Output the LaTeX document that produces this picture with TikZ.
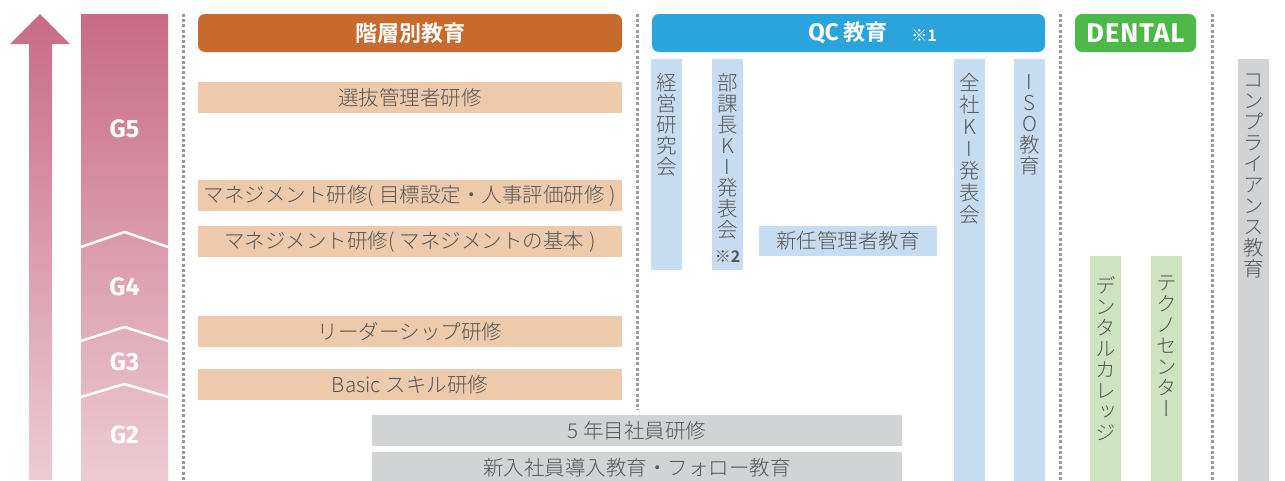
\documentclass[tikz,border=0pt]{standalone}
\usepackage{fontspec}
\newfontfamily\jp{Noto Sans CJK JP}[UprightFont=* Light, BoldFont=* Bold]
\newfontfamily\vjp{Noto Sans CJK JP}[UprightFont=* Light, RawFeature=+vert]
\newfontfamily\jpb{Noto Sans CJK JP}[UprightFont=* Bold]
\newfontfamily\gfont{Fira Sans}
\newcommand\lpar{(\kern5pt}
\newcommand\rpar{\kern5pt)}
\definecolor{hdrorange}{HTML}{C8692E}
\definecolor{hdrblue}{HTML}{2BA3DC}
\definecolor{hdrgreen}{HTML}{4DB848}
\definecolor{boxorange}{HTML}{EECAAD}
\definecolor{boxblue}{HTML}{C5DCF1}
\definecolor{boxgreen}{HTML}{CDE4C1}
\definecolor{boxgray}{HTML}{D2D3D5}
\definecolor{txt}{HTML}{555555}
\definecolor{dotgray}{HTML}{9A9A9A}
\definecolor{pinktop}{HTML}{C96A86}
\definecolor{pinkbot}{HTML}{ECCCD4}
\tikzset{
  hdr/.style={rounded corners=7pt, inner sep=0pt, text=white, minimum height=38pt,
    font=\jpb\fontsize{22}{24}\selectfont},
  hbar/.style={inner sep=0pt, text=txt, minimum height=31pt,
    font=\jp\fontsize{20.5}{24}\selectfont},
  vcol/.style={inner sep=0pt, minimum width=31pt},
  vtxt/.style={inner sep=0pt, anchor=north, align=center, text=txt,
    font=\vjp\fontsize{20.5}{21}\selectfont},
  sep/.style={dotgray, line width=3pt, dash pattern=on 3pt off 2.2pt},
  glabel/.style={text=white, font=\gfont\bfseries\fontsize{25}{26}\selectfont},
  chev/.style={white, line width=2.5pt},
}
\begin{document}
\begin{tikzpicture}[x=1pt, y=-1pt]
\useasboundingbox (0,0) rectangle (1285,480);
% left arrow and grade bar
\shade[top color=pinktop, bottom color=pinkbot]
  (29,480) -- (29,44) -- (10,44) -- (40,14) -- (70,44) -- (52,44) -- (52,480) -- cycle;
\shade[top color=pinktop, bottom color=pinkbot] (81,14) rectangle (168,480);
\draw[chev] (81,247) -- (124.5,232) -- (168,247);
\draw[chev] (81,341) -- (124.5,327) -- (168,341);
\draw[chev] (81,397) -- (124.5,384) -- (168,397);
\node[glabel] (g5) at (124.5,129) {G5};
\node[glabel] (g4) at (124.5,287) {G4};
\node[glabel] (g3) at (124.5,362) {G3};
\node[glabel] (g2) at (124.5,435) {G2};
% separators
\draw[sep] (183,14) -- (183,480);
\draw[sep] (637,14) -- (637,410);
\draw[sep] (1060,14) -- (1060,480);
\draw[sep] (1212,14) -- (1212,480);
% headers
\node[hdr, fill=hdrorange, minimum width=424pt] (h1) at (410,33) {階層別教育};
\node[hdr, fill=hdrblue, minimum width=393pt] (h2) at (848.5,33) {};
\node[text=white, font=\jpb\fontsize{22}{24}\selectfont, inner sep=0pt] (h2t) at (848,33)
  {{\gfont\bfseries\fontsize{24}{24}\selectfont QC} 教育};
\node[text=white, font=\jpb\fontsize{16}{17}\selectfont, inner sep=0pt] (h2n) at (924,36) {※1};
\node[hdr, fill=hdrgreen, minimum width=121pt] (h3) at (1135.5,33)
  {\gfont\bfseries\fontsize{27}{28}\selectfont\addfontfeature{LetterSpace=4}DENTAL};
% orange bars
\node[hbar, fill=boxorange, minimum width=424pt] (b1) at (410,97.5) {選抜管理者研修};
\node[hbar, fill=boxorange, minimum width=424pt] (b2) at (410,195.5) {マネジメント研修\lpar 目標設定・人事評価研修\rpar};
\node[hbar, fill=boxorange, minimum width=424pt] (b3) at (410,241.5) {マネジメント研修\lpar マネジメントの基本\rpar};
\node[hbar, fill=boxorange, minimum width=424pt] (b4) at (410,331.5) {リーダーシップ研修};
\node[hbar, fill=boxorange, minimum width=424pt] (b5) at (410,384.5) {Basic スキル研修};
% gray bars
\node[hbar, fill=boxgray, minimum width=530pt] (b6) at (637,430.5) {5 年目社員研修};
\node[hbar, fill=boxgray, minimum width=530pt, minimum height=32pt] (b7) at (637,468) {新入社員導入教育・フォロー教育};
% QC columns
\node[vcol, fill=boxblue, minimum height=211pt] (c1) at (666.5,164.5) {};
\node[vtxt] (c1t) at (666.5,73) {経\\営\\研\\究\\会};
\node[vcol, fill=boxblue, minimum height=211pt] (c2) at (727.5,164.5) {};
\node[vtxt] (c2t) at (727.5,73) {部\\課\\長\\K\\I\\発\\表\\会};
\node[text=txt, font=\jpb\fontsize{16}{17}\selectfont, inner sep=0pt] (c2n) at (727.5,257) {※2};
\node[hbar, fill=boxblue, minimum width=178pt, minimum height=30pt] (c3) at (848,241) {新任管理者教育};
\node[vcol, fill=boxblue, minimum height=423pt] (c4) at (969.5,270.5) {};
\node[vtxt, font=\vjp\fontsize{20.5}{22}\selectfont] (c4t) at (969.5,73) {全\\社\\K\\I\\発\\表\\会};
\node[vcol, fill=boxblue, minimum height=423pt] (c5) at (1029.5,270.5) {};
\node[vtxt] (c5t) at (1029.5,74) {I\\S\\O\\教\\育};
% dental columns
\node[vcol, fill=boxgreen, minimum height=226pt] (d1) at (1105.5,369) {};
\node[vtxt] (d1t) at (1105.5,276) {デ\\ン\\タ\\ル\\カ\\レ\\ッ\\ジ};
\node[vcol, fill=boxgreen, minimum height=226pt] (d2) at (1166.5,369) {};
\node[vtxt] (d2t) at (1166.5,276) {テ\\ク\\ノ\\セ\\ン\\タ\\ー};
% compliance
\node[vcol, fill=boxgray, minimum height=423pt] (e1) at (1253.5,270.5) {};
\node[vtxt] (e1t) at (1253.5,74) {コ\\ン\\プ\\ラ\\イ\\ア\\ン\\ス\\教\\育};
\end{tikzpicture}
\end{document}
